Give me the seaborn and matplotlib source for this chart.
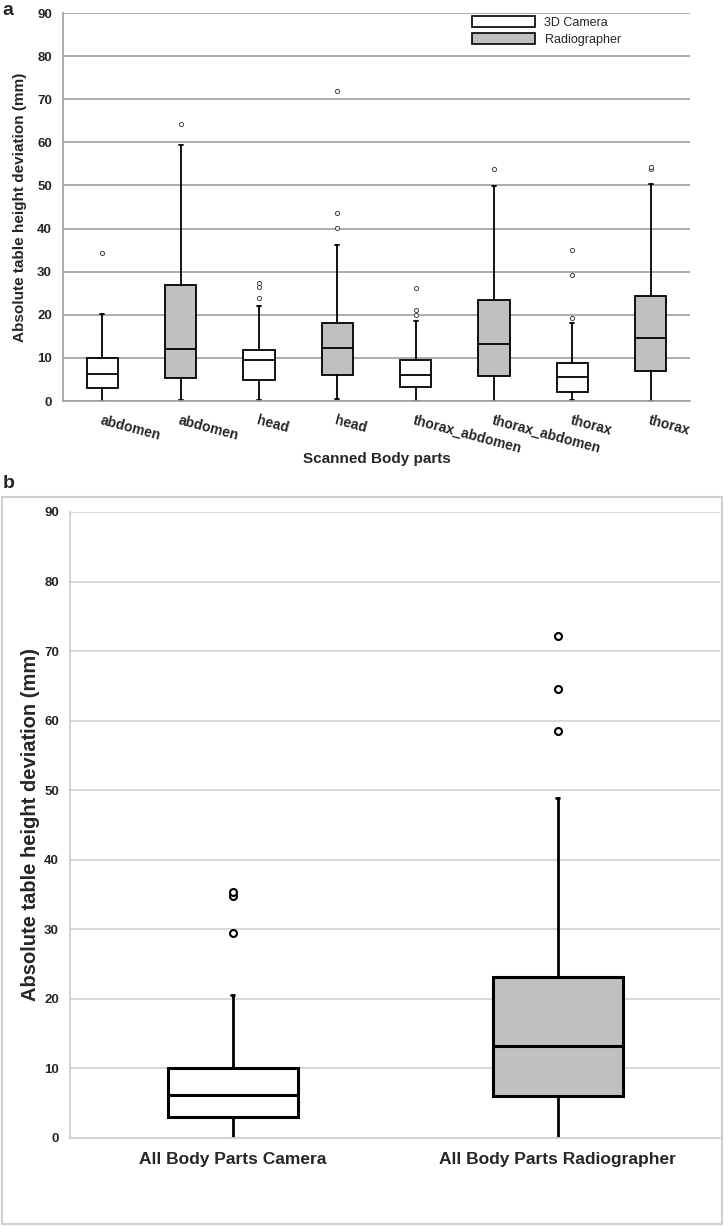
import matplotlib
matplotlib.use("Agg")
import matplotlib.pyplot as plt
import seaborn as sns
from matplotlib.patches import Patch, Rectangle
from matplotlib import font_manager as fm

# ---------------- data ----------------
parts = ["abdomen", "abdomen", "head", "head", "thorax_abdomen",
         "thorax_abdomen", "thorax", "thorax"]
groups = ["3D Camera", "Radiographer"] * 4
whislo = [0.0, 0.3, 0.3, 0.5, 0.1, 0.1, 0.2, 0.1]
q1 = [3.0, 5.3, 4.9, 6.1, 3.3, 5.8, 2.2, 7.0]
med = [6.3, 12.0, 9.4, 12.3, 6.0, 13.3, 5.5, 14.7]
q3 = [9.9, 26.9, 11.8, 18.2, 9.4, 23.5, 8.8, 24.4]
whishi = [20.2, 59.3, 22.0, 36.2, 18.5, 49.9, 18.2, 50.3]
fliers = [[34.3], [64.3], [23.9, 26.4, 27.3], [40.2, 43.7, 72.0],
          [19.9, 21.0, 26.1], [53.9], [19.2, 29.2, 35.0], [53.8, 54.2]]

all_labels = ["All Body Parts Camera", "All Body Parts Radiographer"]
all_groups = ["3D Camera", "Radiographer"]
all_whislo = [0.0, 0.0]
all_q1 = [3.0, 6.0]
all_med = [6.1, 13.2]
all_q3 = [10.0, 23.1]
all_whishi = [20.5, 48.8]
all_fliers = [[29.4, 34.8, 35.4], [58.5, 64.5, 72.1]]

yticks = [0, 10, 20, 30, 40, 50, 60, 70, 80, 90]
legend_labels = ["3D Camera", "Radiographer"]
ylabel = "Absolute table height deviation (mm)"
xlabel_a = "Scanned Body parts"

# ---------------- style ----------------
sns.set_theme(style="whitegrid")
names = {f.name for f in fm.fontManager.ttflist}
NARROW = "Liberation Sans Narrow" if "Liberation Sans Narrow" in names else "Liberation Sans"
plt.rcParams["font.family"] = ["Liberation Sans", "DejaVu Sans"]

colors = {"3D Camera": "white", "Radiographer": "#c0c0c0"}

W, H = 725, 1227
fig = plt.figure(figsize=(W / 100, H / 100), dpi=100)
fig.patch.set_facecolor("white")


def ax_rect(l, t, r, b):
    return [l / W, 1 - b / H, (r - l) / W, (b - t) / H]


def make_stats(lo, a, m, b, hi, fl, labels):
    return [dict(whislo=lo[i], q1=a[i], med=m[i], q3=b[i], whishi=hi[i],
                 fliers=fl[i], label=labels[i]) for i in range(len(lo))]


# ---------------- panel a ----------------
axa = fig.add_axes(ax_rect(63, 13, 690, 401))
stats_a = make_stats(whislo, q1, med, q3, whishi, fliers, parts)
bpa = axa.bxp(stats_a, positions=list(range(len(parts))), widths=0.4,
              capwidths=0.05, patch_artist=True, manage_ticks=False,
              boxprops=dict(edgecolor="black", linewidth=1.3),
              medianprops=dict(color="black", linewidth=1.3),
              whiskerprops=dict(color="black", linewidth=1.3),
              capprops=dict(color="black", linewidth=1.3),
              flierprops=dict(marker="o", markersize=3, markerfacecolor="white",
                              markeredgecolor="#444444", markeredgewidth=0.7))
for patch, g in zip(bpa["boxes"], groups):
    patch.set_facecolor(colors[g])
axa.set_ylim(0, 90)
axa.set_xlim(-0.5, len(parts) - 0.5)
axa.set_yticks(yticks)
axa.set_xticks(range(len(parts)))
axa.set_xticklabels(parts, rotation=-15, ha="left", va="top",
                    rotation_mode="anchor", fontfamily=NARROW,
                    fontweight="bold", fontsize=10)
axa.set_xticks([i - 0.5 for i in range(len(parts) + 1)], minor=True)
axa.tick_params(axis="x", which="major", length=0, pad=9)
axa.tick_params(axis="x", which="minor", length=4, color="#909090", width=1, direction="out")
axa.tick_params(axis="y", length=4, color="#909090", width=1, direction="out", pad=4)
for lab in axa.get_yticklabels():
    lab.set_fontfamily(NARROW)
    lab.set_fontweight("bold")
    lab.set_fontsize(9.5)
axa.grid(axis="y", color="#a6a6a6", linewidth=1.3)
axa.grid(axis="x", visible=False)
for s in ["top", "right"]:
    axa.spines[s].set_visible(False)
for s in ["left", "bottom"]:
    axa.spines[s].set_color("#a0a0a0")
    axa.spines[s].set_linewidth(1.2)
axa.set_ylabel(ylabel, fontsize=11, fontweight="bold")
axa.yaxis.set_label_coords(-0.058, 0.5)
axa.set_xlabel(xlabel_a, fontsize=11, fontweight="bold", fontfamily=NARROW)
axa.xaxis.set_label_coords(0.5, -0.131)
axa.xaxis.label.set_va("top")

handles = [Patch(facecolor=colors[g], edgecolor="black", linewidth=1.2, label=g)
           for g in legend_labels]
axa.legend(handles=handles, loc="upper left", bbox_to_anchor=(472 / W, 1 - 16 / H),
           bbox_transform=fig.transFigure, frameon=False, borderpad=0,
           borderaxespad=0, handlelength=5.0, handleheight=1.0,
           handletextpad=0.8, labelspacing=0.3,
           prop=dict(family="Liberation Sans", size=9))

fig.text(2 / W, 1 - 15 / H, "a", fontsize=14, fontweight="bold", ha="left", va="baseline")

# ---------------- panel b ----------------
fig.patches.append(Rectangle((2 / W, 1 - 1224 / H), 720 / W, 727 / H,
                             transform=fig.transFigure, facecolor="none",
                             edgecolor="#cfcfcf", linewidth=1.5, zorder=0))
fig.text(3 / W, 1 - 488 / H, "b", fontsize=14, fontweight="bold", ha="left", va="baseline")

axb = fig.add_axes(ax_rect(70, 512, 720, 1137.7))
stats_b = make_stats(all_whislo, all_q1, all_med, all_q3, all_whishi, all_fliers, all_labels)
bpb = axb.bxp(stats_b, positions=[0, 1], widths=0.4, capwidths=0.012,
              patch_artist=True, manage_ticks=False,
              boxprops=dict(edgecolor="black", linewidth=2.2),
              medianprops=dict(color="black", linewidth=2.2),
              whiskerprops=dict(color="black", linewidth=2.0),
              capprops=dict(color="black", linewidth=2.0),
              flierprops=dict(marker="o", markersize=5, markerfacecolor="white",
                              markeredgecolor="black", markeredgewidth=1.5))
for patch, g in zip(bpb["boxes"], all_groups):
    patch.set_facecolor(colors[g])
axb.set_ylim(0, 90)
axb.set_xlim(-0.5, 1.5)
axb.set_yticks(yticks)
axb.set_xticks([0, 1])
axb.set_xticklabels(all_labels, fontsize=12.5, fontweight="bold")
axb.set_xticks([-0.5, 0.5, 1.5], minor=True)
axb.tick_params(axis="x", which="major", length=0, pad=10)
axb.tick_params(axis="x", which="minor", length=5, color="#d0d0d0", width=1.2, direction="out")
axb.tick_params(axis="y", length=4, color="#d0d0d0", width=1.2, direction="out", pad=4)
for lab in axb.get_yticklabels():
    lab.set_fontfamily(NARROW)
    lab.set_fontweight("bold")
    lab.set_fontsize(9.5)
axb.grid(axis="y", color="#d6d6d6", linewidth=1.3)
axb.grid(axis="x", visible=False)
for s in ["top", "right"]:
    axb.spines[s].set_visible(False)
for s in ["left", "bottom"]:
    axb.spines[s].set_color("#d0d0d0")
    axb.spines[s].set_linewidth(1.3)
axb.set_ylabel(ylabel, fontsize=14.5, fontweight="bold")
axb.yaxis.set_label_coords(-0.046, 0.5)

fig.savefig("out.png", dpi=100, facecolor="white")
